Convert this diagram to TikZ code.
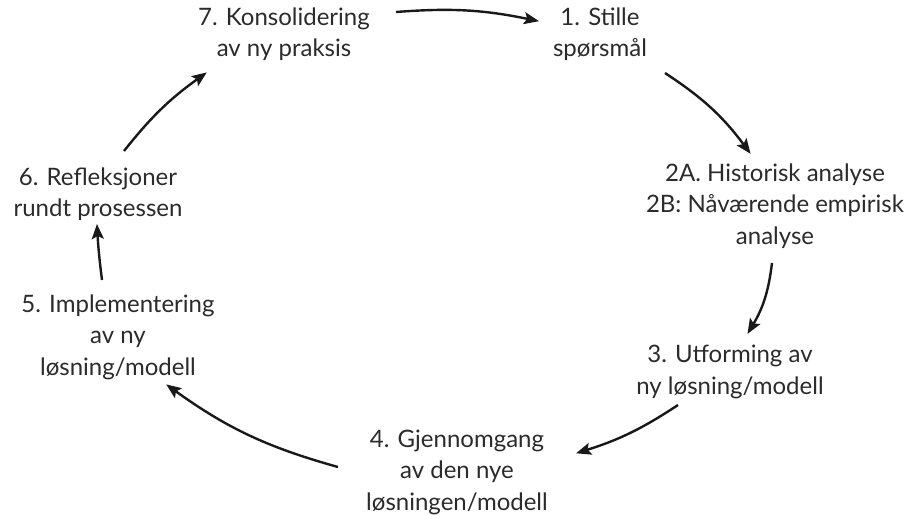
\documentclass[tikz,border=0pt]{standalone}
\usepackage{fontspec}
\setmainfont{Lato}
\usetikzlibrary{arrows.meta}
\definecolor{txt}{HTML}{2B2B2B}
\tikzset{
  lbl/.style={align=center, text=txt, font=\fontsize{24}{31.5}\selectfont, inner sep=0pt},
  arr/.style={line width=2.4pt, draw=black!90, -{Stealth[length=15pt,width=12pt,inset=3pt]}, shorten >=-1pt}
}
\begin{document}
\begin{tikzpicture}[x=1pt,y=-1pt]
\useasboundingbox (0,0) rectangle (907,514);
\node[lbl] (n7) at (284,34) {7. Konsolidering\\av ny praksis};
\node[lbl] (n1) at (600,34) {1. Stille\\spørsmål};
\node[lbl] (n2) at (775,206) {2A. Historisk analyse\\2B: Nåværende empirisk\\analyse};
\node[lbl] (n3) at (730,372) {3. Utforming av\\ny løsning/modell};
\node[lbl] (n4) at (457,472) {4. Gjennomgang\\av den nye\\løsningen/modell};
\node[lbl] (n5) at (118,337) {5. Implementering\\av ny\\løsning/modell};
\node[lbl] (n6) at (98,194) {6. Refleksjoner\\rundt prosessen};
\coordinate (a71) at (396,12);  \coordinate (b71) at (538,21);
\coordinate (a12) at (665,73);  \coordinate (b12) at (750,153);
\coordinate (a23) at (772,263); \coordinate (b23) at (748,333);
\coordinate (a34) at (678,405); \coordinate (b34) at (577,453);
\coordinate (a45) at (338,467); \coordinate (b45) at (167,385);
\coordinate (a56) at (102,280); \coordinate (b56) at (97,225);
\coordinate (a67) at (124,151); \coordinate (b67) at (206,73);
\draw[arr] (a71) to[bend left=8] (b71);
\draw[arr] (a12) to[bend left=10] (b12);
\draw[arr] (a23) to[bend left=12] (b23);
\draw[arr] (a34) to[bend left=8] (b34);
\draw[arr] (a45) to[bend left=10] (b45);
\draw[arr] (a56) to[bend left=2] (b56);
\draw[arr] (a67) to[bend left=8] (b67);
\end{tikzpicture}
\end{document}
